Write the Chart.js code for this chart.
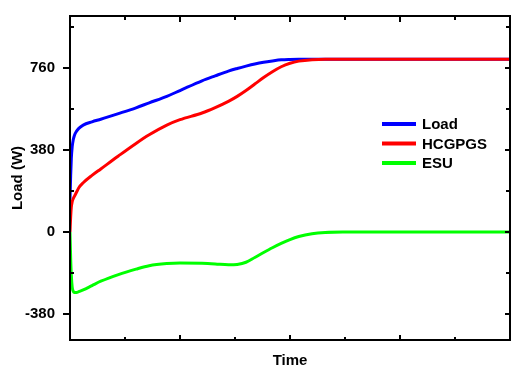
<!DOCTYPE html>
<html>
<head>
<meta charset="utf-8">
<script src="https://cdn.jsdelivr.net/npm/chart.js@4.4.0/dist/chart.umd.min.js"></script>
<style>
  html, body { margin: 0; padding: 0; background: #fff; }
  #wrap { width: 512px; height: 368px; }
</style>
</head>
<body>
<div id="wrap"><canvas id="myChart" width="512" height="368"></canvas></div>
<script>
// ---------------- data ----------------
var timePoints   = [0, 0.15, 0.3, 0.5, 0.75, 1, 1.5, 2, 3, 5, 7, 11, 15, 18, 22, 25, 30, 33, 36, 38, 40, 42, 44, 46, 48, 50, 52, 55, 58, 62, 75, 100];
var loadValues   = [150, 260, 340, 395, 428, 447, 467, 480, 495, 510, 522, 548, 575, 598, 628, 655, 700, 723, 745, 757, 768, 778, 786, 792, 797, 799, 800, 800, 800, 800, 800, 800];
var hcgpgsValues = [0, 70, 115, 140, 155, 165, 185, 205, 228, 262, 292, 352, 410, 450, 495, 520, 551, 576, 605, 628, 655, 685, 715, 742, 765, 781, 791, 798, 800, 800, 800, 800];
var esuValues    = [0, -120, -200, -255, -275, -280, -280, -276, -268, -248, -228, -197, -172, -156, -146, -143, -145, -148, -152, -150, -140, -118, -95, -73, -53, -35, -21, -8, -2, 0, 0, 0];
var seriesNames = ['Load', 'HCGPGS', 'ESU'];
var seriesColors = ['#0000ff', '#ff0000', '#00ff00'];
var yMajorTicks = [-380, 0, 380, 760];
var yMinorTicks = [-190, 190, 570, 950];
var xMajorTicks = [25, 50, 75];
var xMinorTicks = [12.5, 37.5, 62.5, 87.5];

var FONT = "'Liberation Sans', Arial, sans-serif";

function toPoints(values) {
  return values.map(function (v, i) { return { x: timePoints[i], y: v }; });
}

// frame, ticks and legend drawn on top
var framePlugin = {
  id: 'frame',
  afterDraw: function (chart) {
    var ctx = chart.ctx;
    var a = chart.chartArea;
    var xs = chart.scales.x;
    var ys = chart.scales.y;
    ctx.save();
    ctx.strokeStyle = '#000';
    ctx.lineWidth = 2;
    ctx.strokeRect(a.left, a.top, a.right - a.left, a.bottom - a.top);

    ctx.beginPath();
    yMajorTicks.forEach(function (v) {
      var y = Math.round(ys.getPixelForValue(v));
      ctx.moveTo(a.left - 7, y); ctx.lineTo(a.left, y);
      ctx.moveTo(a.right, y); ctx.lineTo(a.right - 5, y);
    });
    yMinorTicks.forEach(function (v) {
      var y = Math.round(ys.getPixelForValue(v));
      ctx.moveTo(a.left, y); ctx.lineTo(a.left + 4, y);
      ctx.moveTo(a.right, y); ctx.lineTo(a.right - 4, y);
    });
    xMajorTicks.forEach(function (v) {
      var x = Math.round(xs.getPixelForValue(v));
      ctx.moveTo(x, a.top); ctx.lineTo(x, a.top + 6);
      ctx.moveTo(x, a.bottom); ctx.lineTo(x, a.bottom - 5);
    });
    xMinorTicks.forEach(function (v) {
      var x = Math.round(xs.getPixelForValue(v));
      ctx.moveTo(x, a.top); ctx.lineTo(x, a.top + 4);
      ctx.moveTo(x, a.bottom); ctx.lineTo(x, a.bottom - 3);
    });
    ctx.stroke();

    // legend, in series order
    ctx.font = 'bold 15px ' + FONT;
    ctx.textBaseline = 'middle';
    ctx.fillStyle = '#000';
    seriesNames.forEach(function (name, i) {
      var y = 124 + i * 19.5;
      ctx.strokeStyle = seriesColors[i];
      ctx.lineWidth = 4;
      ctx.beginPath();
      ctx.moveTo(382, y); ctx.lineTo(416, y);
      ctx.stroke();
      ctx.fillText(name, 422, y + 1);
    });
    ctx.restore();
  }
};

var allValues = [loadValues, hcgpgsValues, esuValues];
var datasets = seriesNames.map(function (name, i) {
  return {
    label: name,
    data: toPoints(allValues[i]),
    borderColor: seriesColors[i],
    backgroundColor: seriesColors[i],
    borderWidth: 3,
    pointRadius: 0,
    cubicInterpolationMode: 'monotone',
    fill: false
  };
}).reverse(); // later series drawn over earlier ones

var myChart = new Chart(document.getElementById('myChart').getContext('2d'), {
  type: 'line',
  data: { datasets: datasets },
  options: {
    responsive: false,
    animation: false,
    events: [],
    layout: { padding: { top: 16, right: 2, left: 0, bottom: 0 } },
    plugins: { legend: { display: false }, tooltip: { enabled: false } },
    scales: {
      x: {
        type: 'linear',
        min: 0,
        max: 100,
        grid: { display: false },
        border: { display: false },
        ticks: { display: false },
        title: {
          display: true,
          text: 'Time',
          color: '#000',
          font: { family: FONT, size: 15, weight: 'bold', lineHeight: 1 },
          padding: { top: 0, bottom: 0 }
        },
        afterFit: function (s) { s.height = 28; }
      },
      y: {
        min: -500,
        max: 1000,
        grid: { display: false },
        border: { display: false },
        afterBuildTicks: function (s) {
          s.ticks = yMajorTicks.map(function (v) { return { value: v }; });
        },
        ticks: {
          color: '#000',
          padding: 7,
          font: { family: FONT, size: 15, weight: 'bold' }
        },
        title: {
          display: true,
          text: 'Load (W)',
          color: '#000',
          font: { family: FONT, size: 15, weight: 'bold', lineHeight: 1.2 },
          padding: { top: 9, bottom: 0 }
        },
        afterFit: function (s) { s.width = 70; }
      }
    }
  },
  plugins: [framePlugin]
});
</script>
</body>
</html>
